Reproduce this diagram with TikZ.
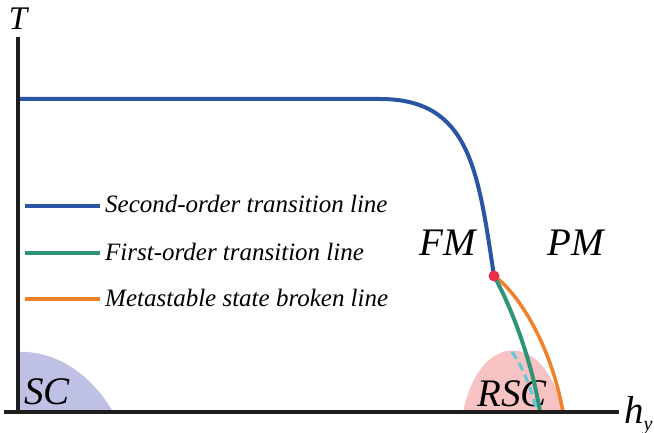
\documentclass[tikz,border=0pt]{standalone}
\usepackage{fontspec}
\setmainfont{Liberation Serif}
\newfontfamily\tnr{Liberation Serif}
\definecolor{lineblue}{RGB}{42,85,165}
\definecolor{linegreen}{RGB}{46,148,120}
\definecolor{lineorange}{RGB}{240,128,42}
\definecolor{critred}{RGB}{232,48,74}
\definecolor{dashcyan}{RGB}{95,200,214}
\definecolor{rscpink}{RGB}{247,194,194}
\definecolor{sclav}{RGB}{190,192,228}
\definecolor{axisgray}{RGB}{30,30,30}
\tikzset{
  axisline/.style={line width=4pt,draw=axisgray},
  phase/.style={font=\tnr\itshape\fontsize{39}{39}\selectfont,inner sep=0pt},
  legtext/.style={font=\tnr\itshape\fontsize{25}{25}\selectfont,inner sep=0pt,anchor=base west},
  legline/.style={line width=4pt},
  curve/.style={line width=4pt}}
\begin{document}
\begin{tikzpicture}[x=1pt,y=-1pt]
\useasboundingbox (0,0) rectangle (654,433);

% legend and phase labels
\node[legtext] (t1) at (105,213) {Second-order transition line};
\node[legtext] (t2) at (105,260) {First-order transition line};
\node[legtext] (t3) at (105,306) {Metastable state broken line};
\node[phase,anchor=base west] (fm) at (419,255) {FM};
\node[phase,anchor=base west] (pm) at (547,255) {PM};
\node[font=\tnr\itshape\fontsize{33}{33}\selectfont,inner sep=0pt,anchor=base] (tlab) at (18,30) {T};

% superconducting domes
\fill[sclav] (18,412) -- (18,352) .. controls (60,350) and (95,380) .. (113,412) -- cycle;
\fill[rscpink] (463,412) .. controls (480,330) and (545,330) .. (563,412) -- cycle;
\node[phase,anchor=base west] (sc) at (24,404) {SC};
\node[phase,anchor=base] (rsc) at (512,406) {RSC};

% transition lines
\coordinate (c0) at (18,99);
\coordinate (c1) at (380,99);
\coordinate (tcp) at (494,276);
\coordinate (gend) at (540,412);
\coordinate (oend) at (563,412);
\coordinate (dtop) at (512,352);
\coordinate (dend) at (537,412);
\draw[curve,lineblue] (c0) -- (c1) .. controls (470,99) and (478,170) .. (tcp);
\draw[line width=3.5pt,lineorange] (tcp) .. controls (515,290) and (550,340) .. (oend);
\draw[curve,linegreen] (tcp) .. controls (505,295) and (530,350) .. (gend);
\draw[line width=3pt,dashcyan,dash pattern=on 8pt off 5pt] (dtop) .. controls (522,365) and (532,390) .. (dend);
\fill[critred] (tcp) circle (5.5);

% axes
\coordinate (yb) at (18,414);
\coordinate (yt) at (18,37);
\coordinate (xl) at (4,412);
\coordinate (xr) at (619,412);
\draw[axisline] (yb) -- (yt);
\draw[axisline] (xl) -- (xr);
\node[phase,anchor=base west] (hlab) at (624,423) {h\raisebox{-0.18em}{\fontsize{20}{20}\selectfont y}};

% legend swatches
\coordinate (l1a) at (25,206); \coordinate (l1b) at (100,206);
\coordinate (l2a) at (25,253); \coordinate (l2b) at (100,253);
\coordinate (l3a) at (25,299); \coordinate (l3b) at (100,299);
\draw[legline,lineblue] (l1a) -- (l1b);
\draw[legline,linegreen] (l2a) -- (l2b);
\draw[legline,lineorange] (l3a) -- (l3b);
\end{tikzpicture}
\end{document}
